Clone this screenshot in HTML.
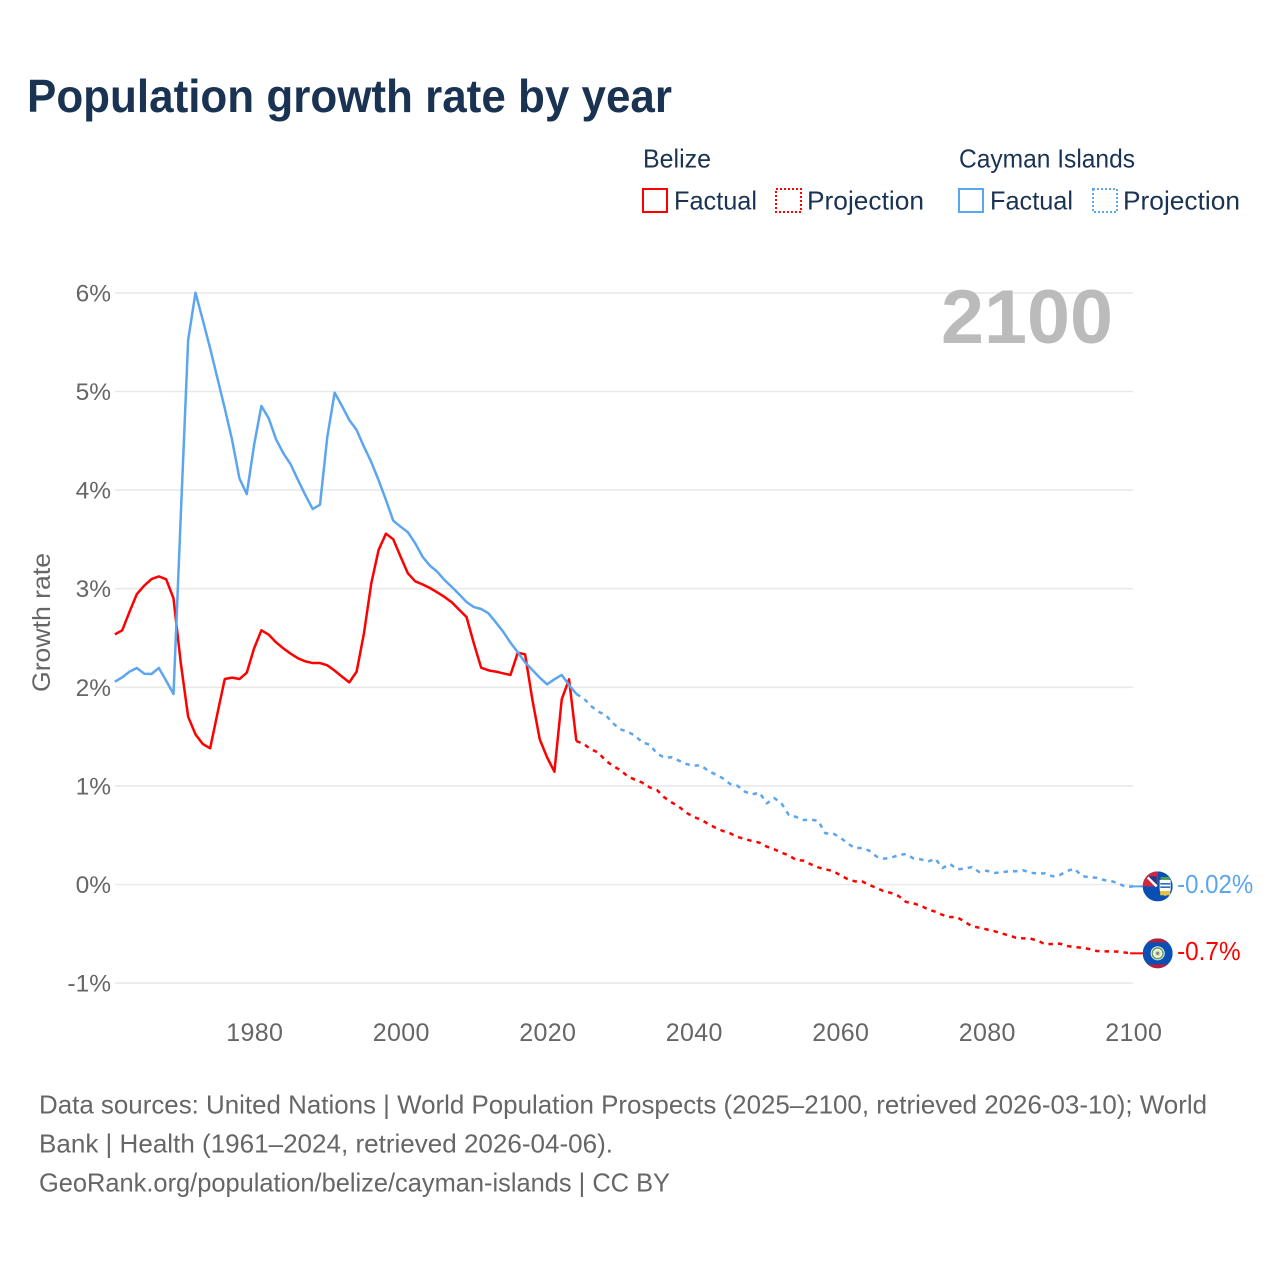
<!DOCTYPE html>
<html lang="en">
<head>
<meta charset="utf-8">
<title>Population growth rate by year</title>
<style>
html,body{margin:0;padding:0;background:#fff;}
svg{display:block;font-family:"Liberation Sans",sans-serif;}
</style>
</head>
<body>
<svg id="chart" xmlns="http://www.w3.org/2000/svg" width="1280" height="1280" viewBox="0 0 1280 1280">
  <rect width="1280" height="1280" fill="#fff"/>
  <text x="27" y="112" font-size="46" font-weight="bold" fill="#1a3353" textLength="645" lengthAdjust="spacingAndGlyphs">Population growth rate by year</text>

  <g fill="#1a3353" font-size="26">
    <text x="643" y="167.5" textLength="68" lengthAdjust="spacingAndGlyphs">Belize</text>
    <text x="959" y="167.5" textLength="176" lengthAdjust="spacingAndGlyphs">Cayman Islands</text>
    <g>
      <rect x="643" y="189" width="24" height="23" fill="none" stroke="#ff0000" stroke-width="2"/>
      <text x="674" y="209.5" textLength="83" lengthAdjust="spacingAndGlyphs">Factual</text>
    </g>
    <g>
      <rect x="776" y="189" width="25" height="23" fill="none" stroke="#ff0000" stroke-width="2" stroke-dasharray="2 2"/>
      <text x="807" y="209.5" textLength="117" lengthAdjust="spacingAndGlyphs">Projection</text>
    </g>
    <g>
      <rect x="959" y="189" width="24" height="23" fill="none" stroke="#5ca5ef" stroke-width="2"/>
      <text x="990" y="209.5" textLength="83" lengthAdjust="spacingAndGlyphs">Factual</text>
    </g>
    <g>
      <rect x="1093" y="189" width="24" height="23" fill="none" stroke="#5ca5ef" stroke-width="2" stroke-dasharray="2 2"/>
      <text x="1123" y="209.5" textLength="117" lengthAdjust="spacingAndGlyphs">Projection</text>
    </g>
  </g>

  <text transform="translate(50 622.5) rotate(-90)" text-anchor="middle" font-size="25" fill="#666" textLength="139" lengthAdjust="spacingAndGlyphs">Growth rate</text>
  <g id="grid"></g>
  <g id="yticks"></g>
  <g id="xticks"></g>
  <text x="941" y="343" font-size="76" font-weight="bold" fill="#bbbbbb" textLength="172" lengthAdjust="spacingAndGlyphs">2100</text>
  <g id="series"></g>

  <defs>
    <clipPath id="flag-clip-c"><circle cx="0" cy="0" r="15"/></clipPath>
    <clipPath id="flag-clip-b"><circle cx="0" cy="0" r="15"/></clipPath>
  </defs>
  <g id="flag-cayman" clip-path="url(#flag-clip-c)">
    <rect x="-15" y="-15" width="30" height="30" fill="#0a50b4"/>
    <rect x="-15" y="-15" width="15" height="15" fill="#d0283e"/>
    <path d="M-11 -10H-1V0Z" fill="#1d3d8f"/>
    <path d="M-10 -9L-1 0" stroke="#fff" stroke-width="2.4"/>
    <rect x="3" y="-9.5" width="9" height="3" fill="#4f9a52"/>
    <path d="M2 -6.5H13V3Q13 7.5 7.5 9.5Q2 7.5 2 3Z" fill="#fff"/>
    <path d="M2.6 -2.6H12.4M2.6 0.8H12.4" stroke="#2a6fc0" stroke-width="1.6"/>
    <rect x="2.5" y="4.5" width="10" height="4.4" fill="#e6c43a"/>
  </g>
  <g id="flag-belize" clip-path="url(#flag-clip-b)">
    <rect x="-15" y="-15" width="30" height="30" fill="#0a50b4"/>
    <rect x="-15" y="-15" width="30" height="4" fill="#b3203c"/>
    <rect x="-15" y="11" width="30" height="4" fill="#b3203c"/>
    <circle r="7" fill="#fff"/>
    <circle r="5.4" fill="none" stroke="#6aa060" stroke-width="1.6"/>
    <circle r="3" fill="#e6d68a"/>
    <circle r="1.4" fill="#4a8fb0"/>
  </g>
  <g id="endlabels"></g>

  <g font-size="26" fill="#666">
    <text x="39" y="1113.5" textLength="1168" lengthAdjust="spacingAndGlyphs">Data sources: United Nations | World Population Prospects (2025–2100, retrieved 2026-03-10); World</text>
    <text x="39" y="1152.5" textLength="574" lengthAdjust="spacingAndGlyphs">Bank | Health (1961–2024, retrieved 2026-04-06).</text>
    <text x="39" y="1191.5" textLength="631" lengthAdjust="spacingAndGlyphs">GeoRank.org/population/belize/cayman-islands | CC BY</text>
  </g>
</svg>
<script>
const factualStartYear = 1961;
const projectionStartYear = 2024;
const yTickValues = [-1, 0, 1, 2, 3, 4, 5, 6];
const xTickYears = [1980, 2000, 2020, 2040, 2060, 2080, 2100];

const belizeFactual = [2.537,2.578,2.767,2.946,3.031,3.098,3.125,3.095,2.902,2.243,1.702,1.523,1.425,1.381,1.736,2.084,2.098,2.084,2.148,2.395,2.578,2.534,2.456,2.395,2.341,2.294,2.263,2.246,2.246,2.223,2.169,2.108,2.05,2.159,2.547,3.054,3.393,3.558,3.501,3.325,3.156,3.075,3.044,3.007,2.963,2.916,2.862,2.787,2.713,2.446,2.199,2.172,2.159,2.142,2.125,2.351,2.334,1.871,1.472,1.29,1.144,1.878,2.081,1.455];
const belizeProjection = [1.455,1.425,1.371,1.337,1.256,1.202,1.161,1.097,1.063,1.033,0.985,0.958,0.884,0.833,0.789,0.729,0.685,0.658,0.614,0.576,0.543,0.519,0.482,0.461,0.441,0.424,0.384,0.357,0.323,0.296,0.248,0.242,0.205,0.174,0.154,0.137,0.096,0.056,0.032,0.032,-0.005,-0.035,-0.069,-0.086,-0.117,-0.177,-0.191,-0.215,-0.252,-0.276,-0.309,-0.33,-0.333,-0.377,-0.424,-0.438,-0.455,-0.472,-0.495,-0.516,-0.539,-0.546,-0.549,-0.57,-0.607,-0.603,-0.6,-0.624,-0.634,-0.641,-0.654,-0.674,-0.678,-0.678,-0.681,-0.691,-0.698];
const caymanFactual = [2.057,2.101,2.159,2.196,2.138,2.135,2.196,2.067,1.932,3.75,5.522,6.002,5.725,5.438,5.134,4.829,4.508,4.119,3.96,4.457,4.853,4.728,4.515,4.373,4.261,4.102,3.95,3.808,3.852,4.542,4.988,4.853,4.711,4.61,4.44,4.285,4.1,3.9,3.69,3.629,3.572,3.46,3.325,3.234,3.173,3.088,3.017,2.943,2.865,2.814,2.794,2.75,2.659,2.564,2.453,2.355,2.253,2.175,2.098,2.03,2.081,2.125,2.023,1.932];
const caymanProjection = [1.932,1.888,1.81,1.753,1.719,1.635,1.574,1.55,1.509,1.442,1.418,1.33,1.286,1.29,1.256,1.222,1.205,1.209,1.151,1.117,1.077,1.019,1.002,0.941,0.914,0.931,0.823,0.877,0.823,0.705,0.685,0.654,0.657,0.647,0.519,0.519,0.478,0.418,0.37,0.37,0.343,0.282,0.262,0.272,0.299,0.309,0.265,0.255,0.232,0.262,0.167,0.208,0.154,0.161,0.177,0.127,0.14,0.117,0.123,0.134,0.134,0.144,0.12,0.11,0.113,0.083,0.096,0.137,0.161,0.086,0.073,0.069,0.046,0.035,0.012,-0.025,-0.019];

const SVGNS = 'http://www.w3.org/2000/svg';
const xScale = function (year) { return 114.9 + (year - 1961) * 7.325; };
const yScale = function (value) { return 884.5 - value * 98.6; };
const RED = '#ff0000';
const BLUE = '#5ca5ef';

function make(tag, attrs, parent) {
  const el = document.createElementNS(SVGNS, tag);
  Object.keys(attrs).forEach(function (k) { el.setAttribute(k, attrs[k]); });
  parent.appendChild(el);
  return el;
}
function pointsFor(values, startYear) {
  return values.map(function (v, i) {
    return xScale(startYear + i).toFixed(2) + ',' + yScale(v).toFixed(2);
  }).join(' ');
}

const gridGroup = document.getElementById('grid');
const yTickGroup = document.getElementById('yticks');
yTickValues.forEach(function (v) {
  const line = make('line', {x1: 115, x2: 1133, y1: yScale(v), y2: yScale(v), stroke: '#e9e9e9', 'stroke-width': 1.6}, gridGroup);
  
  
  const label = make('text', {x: 111, y: yScale(v) + 8.5, 'text-anchor': 'end', 'font-size': 24.5, fill: '#666'}, yTickGroup);
  label.textContent = v + '%';
  
  
});

const xTickGroup = document.getElementById('xticks');
xTickYears.forEach(function (yr) {
  const label = make('text', {x: xScale(yr) + 0.7, y: 1041, 'text-anchor': 'middle', 'font-size': 25, fill: '#666', 'letter-spacing': 0.35}, xTickGroup);
  label.textContent = String(yr);
  
  
});

const seriesGroup = document.getElementById('series');
function drawLine(values, startYear, color, dashed, name) {
  const line = make('polyline', {points: pointsFor(values, startYear), fill: 'none', stroke: color, 'stroke-width': 2.5, 'stroke-linejoin': 'round'}, seriesGroup);
  if (dashed) { line.setAttribute('stroke-dasharray', '4.5 5'); }
  
  
}
drawLine(belizeFactual, factualStartYear, RED, false, 'belize-factual-line');
drawLine(belizeProjection, projectionStartYear, RED, true, 'belize-projection-line');
drawLine(caymanFactual, factualStartYear, BLUE, false, 'cayman-factual-line');
drawLine(caymanProjection, projectionStartYear, BLUE, true, 'cayman-projection-line');

const labelGroup = document.getElementById('endlabels');
function placeEnd(values, startYear, flagId, color, name) {
  const lastVal = values[values.length - 1];
  const lastYear = startYear + values.length - 1;
  const px = xScale(lastYear);
  const py = yScale(lastVal);
  const connector = make('line', {x1: px - 3, x2: px + 10, y1: py, y2: py, stroke: color, 'stroke-width': 2}, seriesGroup);
  
  
  document.getElementById(flagId).setAttribute('transform', 'translate(' + (px + 24.6) + ' ' + py + ')');
  const text = parseFloat(lastVal.toFixed(2)) + '%';
  const t = make('text', {x: px + 44, y: py + 6.5, 'font-size': 26, fill: color, textLength: text.length * 12.7, lengthAdjust: 'spacingAndGlyphs'}, labelGroup);
  t.textContent = text;
  
  
}
placeEnd(caymanProjection, projectionStartYear, 'flag-cayman', BLUE, 'cayman-end-value');
placeEnd(belizeProjection, projectionStartYear, 'flag-belize', RED, 'belize-end-value');
</script>
</body>
</html>
